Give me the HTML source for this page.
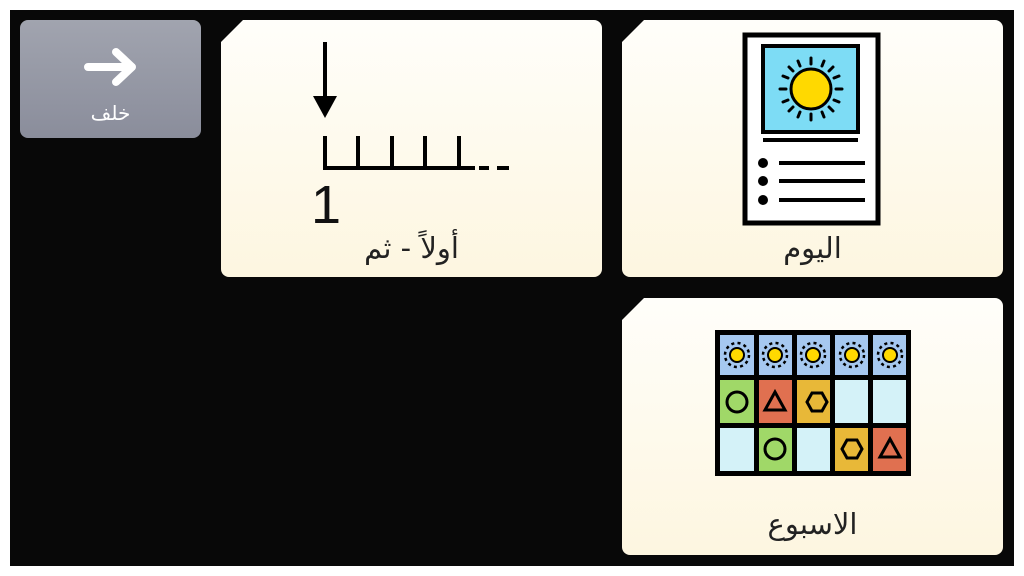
<!DOCTYPE html>
<html><head><meta charset="utf-8"><style>
body{margin:0;width:1024px;height:576px;background:#fff;position:relative;overflow:hidden;font-family:"Liberation Sans","DejaVu Sans",sans-serif}
#bg{position:absolute;left:10px;top:10px;width:1004px;height:556px;background:#080808}
.card{position:absolute;width:381px;height:257px;background:linear-gradient(#fffefa,#fdf6e0);border-radius:8px;clip-path:polygon(22px 0,100% 0,100% 100%,0 100%,0 22px)}
.lbl{position:absolute;left:0;right:0;text-align:center;font-size:29px;color:#222;direction:rtl;font-family:"DejaVu Sans",sans-serif}
#back{position:absolute;left:20px;top:20px;width:181px;height:118px;border-radius:8px;background:linear-gradient(#a1a4af,#8a8d9b)}
</style></head><body>
<div id="bg"></div>
<div id="back">
<svg style="position:absolute;left:62px;top:27px" width="60" height="40"><path d="M6 20H50M34 5L50 20L34 35" stroke="#fff" stroke-width="8" fill="none" stroke-linecap="round" stroke-linejoin="round"/></svg>
<div style="position:absolute;left:0;right:0;top:81px;text-align:center;color:#fff;font-size:20px;font-family:'DejaVu Sans',sans-serif">خلف</div>
</div>
<div class="card" style="left:221px;top:20px">
<svg style="position:absolute;left:0;top:0" width="381" height="257">
<path d="M104 22V90" stroke="#000" stroke-width="4"/><path d="M92 76L104 98L116 76Z" fill="#000"/>
<path d="M104 116V148H254M137 148V116M171 148V116M204 148V116M238 148V116" stroke="#000" stroke-width="4" fill="none"/>
<path d="M258 148H268M276 148H288" stroke="#000" stroke-width="4"/>
<text x="90" y="203" font-size="54" font-family="Liberation Sans" fill="#111">1</text>
</svg>
<div class="lbl" style="top:211px">أولاً - ثم</div>
</div>
<div class="card" style="left:622px;top:20px">
<svg style="position:absolute;left:0;top:0" width="381" height="257">
<rect x="123" y="15" width="133" height="188" fill="#fff" stroke="#000" stroke-width="5"/>
<rect x="141" y="26" width="95" height="86" fill="#7ddcf5" stroke="#000" stroke-width="4"/>
<path d="M141 120H236" stroke="#000" stroke-width="4"/>
<circle cx="189" cy="69" r="20" fill="#ffd900" stroke="#000" stroke-width="3"/>
<g stroke="#000" stroke-width="3" stroke-linecap="round">
<path d="M189 38V44M189 94V100M158 69H164M214 69H220M167 47L171 51M207 87L211 91M211 47L207 51M171 87L167 91M176 41L178 46M200 92L202 97M202 41L200 46M178 92L176 97M161 56L166 58M212 80L217 82M217 56L212 58M166 80L161 82"/>
</g>
<g fill="#000"><circle cx="141" cy="143" r="5"/><circle cx="141" cy="161" r="5"/><circle cx="141" cy="180" r="5"/></g>
<path d="M157 143H243M157 161H243M157 180H243" stroke="#000" stroke-width="4"/>
</svg>
<div class="lbl" style="top:211px">اليوم</div>
</div>
<div class="card" style="left:622px;top:298px">
<svg style="position:absolute;left:0;top:0" width="381" height="257">
<rect x="93" y="32" width="196" height="146" fill="#000"/>
<g>
<rect x="98" y="37" width="34" height="40" fill="#a6c8f0"/><rect x="137" y="37" width="33" height="40" fill="#a6c8f0"/><rect x="175" y="37" width="33" height="40" fill="#a6c8f0"/><rect x="213" y="37" width="33" height="40" fill="#a6c8f0"/><rect x="251" y="37" width="33" height="40" fill="#a6c8f0"/>
<rect x="98" y="82" width="34" height="43" fill="#a0d868"/><rect x="137" y="82" width="33" height="43" fill="#e07050"/><rect x="175" y="82" width="33" height="43" fill="#e8b838"/><rect x="213" y="82" width="33" height="43" fill="#d4f2f8"/><rect x="251" y="82" width="33" height="43" fill="#d4f2f8"/>
<rect x="98" y="130" width="34" height="43" fill="#d4f2f8"/><rect x="137" y="130" width="33" height="43" fill="#a0d868"/><rect x="175" y="130" width="33" height="43" fill="#d4f2f8"/><rect x="213" y="130" width="33" height="43" fill="#e8b838"/><rect x="251" y="130" width="33" height="43" fill="#e07050"/>
</g>
<g stroke="#000" stroke-width="2.5" stroke-dasharray="3 3.3" fill="none">
<circle cx="115" cy="57" r="12"/><circle cx="153" cy="57" r="12"/><circle cx="191" cy="57" r="12"/><circle cx="230" cy="57" r="12"/><circle cx="268" cy="57" r="12"/></g>
<g fill="#ffd900" stroke="#000" stroke-width="2">
<circle cx="115" cy="57" r="7"/><circle cx="153" cy="57" r="7"/><circle cx="191" cy="57" r="7"/><circle cx="230" cy="57" r="7"/><circle cx="268" cy="57" r="7"/></g>
<g fill="none" stroke="#000" stroke-width="3">
<circle cx="115" cy="104" r="10"/><circle cx="153" cy="151" r="10"/>
<path d="M153 94L163 112H143Z"/><path d="M268 141L278 159H258Z"/>
<path d="M185 104L190 95H200L205 104L200 113H190Z"/><path d="M220 151L225 142H235L240 151L235 160H225Z"/>
</g>
</svg>
<div class="lbl" style="top:209px">الاسبوع</div>
</div>
</body></html>
